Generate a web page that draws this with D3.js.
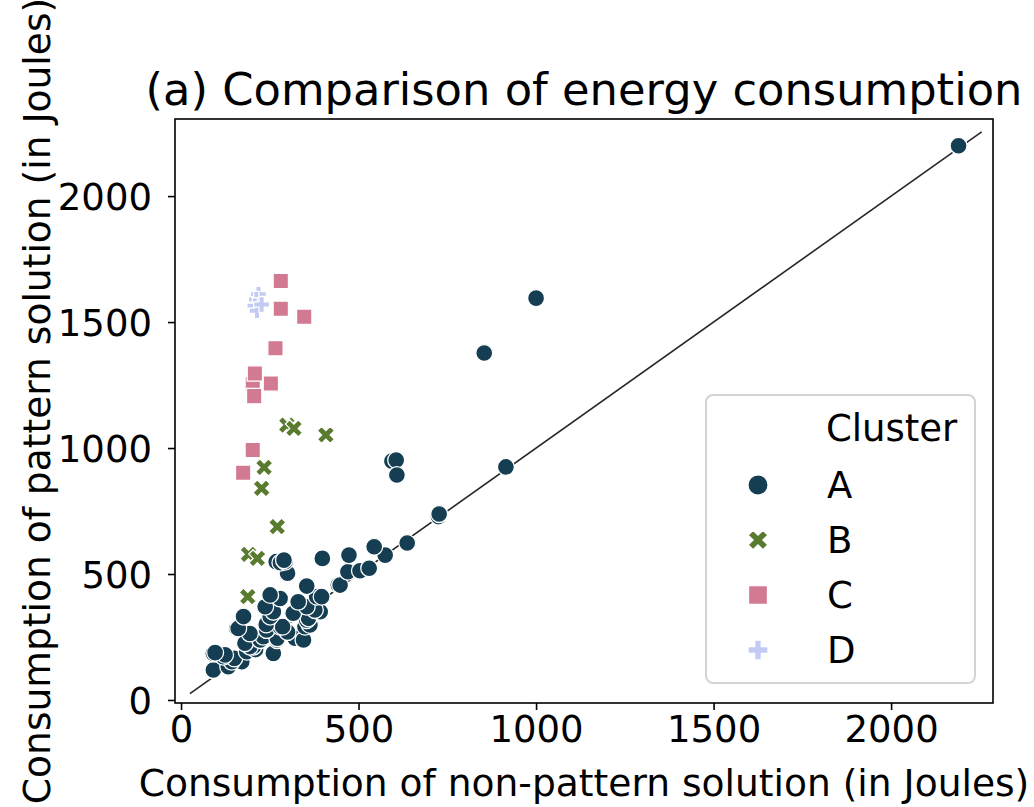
<!DOCTYPE html>
<html>
<head>
<meta charset="utf-8">
<script src="https://cdn.jsdelivr.net/npm/d3@7"></script>
<style>
  html, body { margin: 0; padding: 0; background: #fff; }
  svg { display: block; font-family: "DejaVu Sans", sans-serif; }
</style>
</head>
<body>
<svg id="chart" width="1034" height="807"></svg>
<script>
// Energy per solution, in Joules: [non-pattern, pattern]
const clusterA = [
  [91, 119], [133, 132], [171, 152], [143, 152], [150, 165], [119, 172], [124, 179], [91, 185],
  [96, 188], [185, 192], [210, 200], [260, 185], [204, 212], [194, 212], [180, 225], [223, 238],
  [270, 238], [232, 251], [271, 245], [326, 245], [321, 245], [345, 238], [194, 264],
  [300, 270], [241, 278], [157, 284], [161, 284], [279, 291], [286, 291], [349, 291], [363, 298],
  [240, 300], [251, 331], [176, 331], [354, 317], [359, 324], [316, 344], [260, 350], [392, 350],
  [377, 357], [237, 370], [354, 370], [330, 390], [279, 403], [251, 417], [382, 410], [396, 410],
  [354, 452], [443, 456], [448, 456], [470, 509], [504, 513], [530, 523], [298, 500], [300, 503],
  [268, 549], [280, 545], [293, 549], [290, 555], [398, 562], [473, 575], [575, 575],
  [544, 608], [637, 623], [725, 728], [727, 738], [594, 948], [606, 952], [608, 893],
  [915, 925], [854, 1377], [1000, 1595], [2190, 2200]
];
const clusterB = [
  [188, 410], [190, 578], [215, 562], [271, 688], [227, 840], [234, 923],
  [298, 1091], [318, 1078], [408, 1052]
];
const clusterC = [
  [175, 902], [202, 992], [202, 1253], [206, 1206], [253, 1256], [208, 1296],
  [266, 1396], [347, 1521], [281, 1553], [281, 1663]
];
const clusterD = [
  [218, 1610], [212, 1590], [208, 1565], [214, 1545], [227, 1570]
];
const clusterNames = ["A", "B", "C", "D"];
const clusterColors = ["#153e52", "#597b2f", "#d27a92", "#c3cbf4"];
const xTicks = [0, 500, 1000, 1500, 2000];
const yTicks = [0, 500, 1000, 1500, 2000];
const identityRange = [25, 2255];

const svg = d3.select("#chart");
const plot = { left: 175, right: 993, top: 119, bottom: 703 };

const x = d3.scaleLinear().domain([-17, 2287]).range([plot.left, plot.right]);
const y = d3.scaleLinear().domain([-12, 2306]).range([plot.bottom, plot.top]);

// marker shapes per cluster: circle, thick X, square, thick plus
const shapes = [d3.symbolCircle, d3.symbolCross, d3.symbolSquare, d3.symbolCross];
const rotations = [0, 45, 0, 0];
const sizes = [225, 185, 235, 140];

// x = y reference line
svg.append("line")
  .attr("x1", x(identityRange[0])).attr("y1", y(identityRange[0]))
  .attr("x2", x(identityRange[1])).attr("y2", y(identityRange[1]))
  .attr("stroke", "#262626").attr("stroke-width", 1.6);

const groups = [clusterA, clusterB, clusterC, clusterD];
groups.forEach((pts, i) => {
  const sym = d3.symbol().type(shapes[i]).size(sizes[i]);
  svg.append("g").selectAll("path")
    .data(pts)
    .join("path")
    .attr("d", sym)
    .attr("transform", d => `translate(${x(d[0])},${y(d[1])}) rotate(${rotations[i]})`)
    .attr("fill", clusterColors[i])
    .attr("stroke", "#fff")
    .attr("stroke-width", 1.3);
});

// frame
svg.append("rect")
  .attr("x", plot.left).attr("y", plot.top)
  .attr("width", plot.right - plot.left).attr("height", plot.bottom - plot.top)
  .attr("fill", "none").attr("stroke", "#000").attr("stroke-width", 1.6);

// axes
const xAxis = svg.append("g")
  .attr("transform", `translate(0,${plot.bottom})`)
  .call(d3.axisBottom(x).tickValues(xTicks).tickSize(7).tickPadding(6).tickFormat(d3.format("d")));
const yAxis = svg.append("g")
  .attr("transform", `translate(${plot.left},0)`)
  .call(d3.axisLeft(y).tickValues(yTicks).tickSize(7).tickPadding(16).tickFormat(d3.format("d")));
[xAxis, yAxis].forEach(ax => {
  ax.select(".domain").remove();
  ax.selectAll(".tick line").attr("stroke", "#000").attr("stroke-width", 1.6);
  ax.selectAll(".tick text").attr("fill", "#000")
    .style("font-size", "37px").style("font-family", "DejaVu Sans");
});
yAxis.selectAll(".tick text").attr("dy", "0.36em");

// titles
svg.append("text")
  .attr("x", (plot.left + plot.right) / 2).attr("y", 105)
  .attr("text-anchor", "middle")
  .style("font-size", "44.8px")
  .text("(a) Comparison of energy consumption");

svg.append("text")
  .attr("x", (plot.left + plot.right) / 2).attr("y", 796)
  .attr("text-anchor", "middle")
  .style("font-size", "37.6px")
  .text("Consumption of non-pattern solution (in Joules)");

svg.append("text")
  .attr("transform", `translate(50,${(plot.top + plot.bottom) / 2 - 10}) rotate(-90)`)
  .attr("text-anchor", "middle")
  .style("font-size", "37.6px")
  .text("Consumption of pattern solution (in Joules)");

// legend
const legend = svg.append("g");
legend.append("rect")
  .attr("x", 706).attr("y", 395).attr("width", 269).attr("height", 288)
  .attr("rx", 7).attr("fill", "#fff").attr("fill-opacity", 0.8)
  .attr("stroke", "#d4d4d4").attr("stroke-width", 2);
legend.append("text")
  .attr("x", 826).attr("y", 441)
  .style("font-size", "37px")
  .text("Cluster");
const legendSizes = [320, 240, 360, 220];
clusterNames.forEach((name, i) => {
  const cy = 485 + i * 55;
  legend.append("path")
    .attr("d", d3.symbol().type(shapes[i]).size(legendSizes[i]))
    .attr("transform", `translate(758,${cy}) rotate(${rotations[i]})`)
    .attr("fill", clusterColors[i])
    .attr("stroke", "#fff").attr("stroke-width", 1.3);
  legend.append("text")
    .attr("x", 827).attr("y", cy + 13)
    .style("font-size", "37px")
    .text(name);
});
</script>
</body>
</html>
